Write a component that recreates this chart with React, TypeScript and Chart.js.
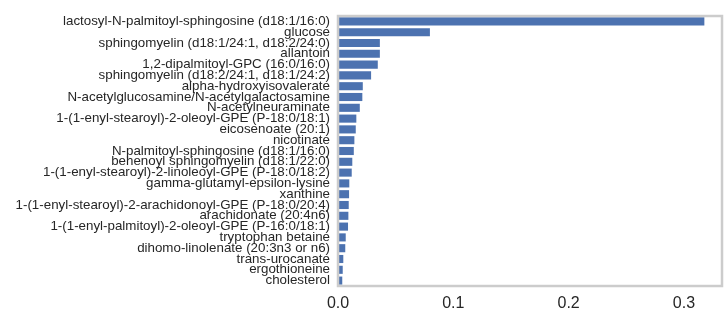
import React, { useEffect, useRef } from "react";
import { Chart, registerables } from "chart.js";

Chart.register(...registerables);

const categories: string[] = [
  "lactosyl-N-palmitoyl-sphingosine (d18:1/16:0)",
  "glucose",
  "sphingomyelin (d18:1/24:1, d18:2/24:0)",
  "allantoin",
  "1,2-dipalmitoyl-GPC (16:0/16:0)",
  "sphingomyelin (d18:2/24:1, d18:1/24:2)",
  "alpha-hydroxyisovalerate",
  "N-acetylglucosamine/N-acetylgalactosamine",
  "N-acetylneuraminate",
  "1-(1-enyl-stearoyl)-2-oleoyl-GPE (P-18:0/18:1)",
  "eicosenoate (20:1)",
  "nicotinate",
  "N-palmitoyl-sphingosine (d18:1/16:0)",
  "behenoyl sphingomyelin (d18:1/22:0)",
  "1-(1-enyl-stearoyl)-2-linoleoyl-GPE (P-18:0/18:2)",
  "gamma-glutamyl-epsilon-lysine",
  "xanthine",
  "1-(1-enyl-stearoyl)-2-arachidonoyl-GPE (P-18:0/20:4)",
  "arachidonate (20:4n6)",
  "1-(1-enyl-palmitoyl)-2-oleoyl-GPE (P-16:0/18:1)",
  "tryptophan betaine",
  "dihomo-linolenate (20:3n3 or n6)",
  "trans-urocanate",
  "ergothioneine",
  "cholesterol",
];

const importance: number[] = [
  0.3177, 0.0797, 0.0363, 0.0363, 0.0345, 0.0287, 0.0215, 0.0211, 0.0189,
  0.0159, 0.0154, 0.0142, 0.0137, 0.0124, 0.0119, 0.0098, 0.0096, 0.0093,
  0.009, 0.0087, 0.0067, 0.0063, 0.0046, 0.0041, 0.0037,
];

const xTicks: number[] = [0, 0.1, 0.2, 0.3];
const xMax = 0.333;

const frame = {
  id: "frame",
  afterDatasetsDraw(chart: any) {
    const { ctx, chartArea } = chart;
    ctx.save();
    ctx.strokeStyle = "#cccccc";
    ctx.lineWidth = 2.5;
    ctx.strokeRect(
      chartArea.left,
      chartArea.top,
      chartArea.right - chartArea.left,
      chartArea.bottom - chartArea.top
    );
    ctx.restore();
  },
};

export default function App() {
  const ref = useRef<HTMLCanvasElement | null>(null);
  useEffect(() => {
    if (!ref.current) return;
    const chart = new Chart(ref.current, {
      type: "bar",
      data: {
        labels: categories,
        datasets: [
          {
            data: importance,
            backgroundColor: "#4c72b0",
            borderWidth: 0,
            barPercentage: 0.75,
            categoryPercentage: 1,
          },
        ],
      },
      options: {
        indexAxis: "y",
        animation: false,
        responsive: false,
        maintainAspectRatio: false,
        layout: { padding: { top: 12, right: 2, bottom: 0, left: 0 } },
        plugins: {
          legend: { display: false },
          tooltip: { enabled: false },
        },
        scales: {
          x: {
            type: "linear",
            min: 0,
            max: xMax,
            afterBuildTicks: (scale: any) => {
              scale.ticks = xTicks.map((v) => ({ value: v }));
            },
            afterFit: (scale: any) => {
              scale.height = 32;
            },
            grid: { display: false, drawTicks: false },
            border: { display: false },
            ticks: {
              padding: 8,
              color: "#262626",
              font: { family: "'Liberation Sans', Arial, sans-serif", size: 16 },
              callback: (v: any) => Number(v).toFixed(1),
            },
          },
          y: {
            afterFit: (scale: any) => {
              scale.width = 338;
            },
            grid: { display: false, drawTicks: false },
            border: { display: false },
            ticks: {
              autoSkip: false,
              padding: 8,
              color: "#262626",
              font: { family: "'Liberation Sans', Arial, sans-serif", size: 13.35 },
            },
          },
        },
      },
      plugins: [frame],
    });
    return () => chart.destroy();
  }, []);
  return (
    <div style={{ position: "fixed", left: 0, top: 0, width: 724, height: 318, background: "#fff" }}>
      <canvas ref={ref} width={724} height={318} style={{ width: 724, height: 318 }} />
    </div>
  );
}
